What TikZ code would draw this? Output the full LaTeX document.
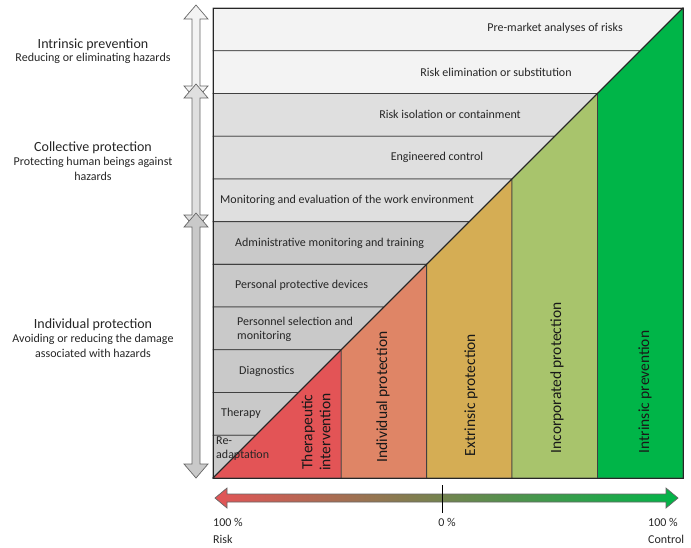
\documentclass[tikz,border=0pt]{standalone}
\usepackage{fontspec}
\setmainfont{Carlito}
\usetikzlibrary{positioning}

\definecolor{rowlight}{HTML}{F3F3F3}
\definecolor{rowmid}{HTML}{DFDFDF}
\definecolor{rowdark}{HTML}{C9C9C9}
\definecolor{therapcol}{HTML}{E35456}
\definecolor{indivcol}{HTML}{DF8566}
\definecolor{extrcol}{HTML}{D5AD54}
\definecolor{incorpcol}{HTML}{A8C46C}
\definecolor{intrcol}{HTML}{00B548}
\definecolor{midcol}{HTML}{8E8A52}

\begin{document}
\begin{tikzpicture}[x=1pt, y=-1pt, rowlabel/.style={font=\fontsize{12}{14}\selectfont, text=black!85, inner sep=0pt}, collabel/.style={font=\fontsize{15.5}{18}\selectfont, text=black!90, rotate=90, inner sep=0pt}, sidetitle/.style={font=\fontsize{14}{16}\selectfont, text=black!85, inner sep=0pt}, sidenote/.style={font=\fontsize{12}{14.5}\selectfont, text=black!85, align=center, inner sep=0pt}, pctlabel/.style={font=\fontsize{12}{14}\selectfont, text=black!85, inner sep=0pt, anchor=base west}]

    \useasboundingbox (0,0) rectangle (691,547);

    %Rows
    \foreach \i/\col [evaluate=\i as \yt using 8+(\i-1)*42.7273, evaluate=\i as \yb using 8+\i*42.7273] in {1/rowlight, 2/rowlight, 3/rowmid, 4/rowmid, 5/rowmid, 6/rowdark, 7/rowdark, 8/rowdark, 9/rowdark, 10/rowdark, 11/rowdark}
        \filldraw[fill=\col, draw=black!75, line width=0.8pt] (213,\yt) -- ({691-\yt},\yt) -- ({691-\yb},\yb) -- (213,\yb) -- cycle;

    %Columns
    \foreach \xa/\xb/\col in {213/341.18/therapcol, 341.18/426.64/indivcol, 426.64/512.09/extrcol, 512.09/597.55/incorpcol, 597.55/683/intrcol}
        \filldraw[fill=\col, draw=black!75, line width=0.8pt] (\xa,478) -- (\xa,{691-\xa}) -- (\xb,{691-\xb}) -- (\xb,478) -- cycle;

    %Frame
    \draw[black!85, line width=1pt] (213,8) rectangle (683,478);
    \draw[black!85, line width=1pt] (213,478) -- (683,8);

    %Side arrows
    \foreach \ya/\yb/\col in {5/100/rowlight, 84/229/rowmid, 213/478/rowdark}
        \filldraw[fill=\col, draw=black!60, line width=0.7pt] (196,\ya) -- (208,{\ya+14}) -- (200,{\ya+14}) -- (200,{\yb-14}) -- (208,{\yb-14}) -- (196,\yb) -- (184,{\yb-14}) -- (192,{\yb-14}) -- (192,{\ya+14}) -- (184,{\ya+14}) -- cycle;

    %Scale arrow
    \shadedraw[left color=therapcol, middle color=midcol, right color=intrcol, draw=black!60, line width=0.7pt] (215,498) -- (227,488) -- (227,494) -- (666,494) -- (666,488) -- (678,498) -- (666,508) -- (666,502) -- (227,502) -- (227,508) -- cycle;
    \coordinate (ticktop) at (442,485);
    \coordinate (tickbot) at (442,513);
    \draw[black, line width=0.8pt] (ticktop) -- (tickbot);

    %Row labels
    \node[rowlabel] (premarket) at (555,28) {Pre-market analyses of risks};
    \node[rowlabel] (elimination) at (496,72) {Risk elimination or substitution};
    \node[rowlabel] (isolation) at (450,114) {Risk isolation or containment};
    \node[rowlabel] (engineered) at (437,157) {Engineered control};
    \node[rowlabel, anchor=west] (monitoring) at (220,200) {Monitoring and evaluation of the work environment};
    \node[rowlabel, anchor=west] (administrative) at (235,243) {Administrative monitoring and training};
    \node[rowlabel, anchor=west] (devices) at (235,285) {Personal protective devices};
    \node[rowlabel, anchor=west, align=left] (selection) at (237,329) {Personnel selection and\\monitoring};
    \node[rowlabel, anchor=west] (diagnostics) at (239,371) {Diagnostics};
    \node[rowlabel, anchor=west] (therapy) at (221,413) {Therapy};
    \node[rowlabel, anchor=west, align=left] (readaptation) at (216,449) {Re-\\adaptation};

    %Column labels
    \node[collabel, align=center] (therapeutic) at (316,432) {Therapeutic\\intervention};
    \node[collabel] (individual) at (383,397) {Individual protection};
    \node[collabel] (extrinsic) at (471,395) {Extrinsic protection};
    \node[collabel] (incorporated) at (557,378) {Incorporated protection};
    \node[collabel] (intrinsic) at (645,392) {Intrinsic prevention};

    %Side labels
    \node[sidetitle] (intrtitle) at (93,45) {Intrinsic prevention};
    \node[sidenote, below=2pt of intrtitle] (intrnote) {Reducing or eliminating hazards};
    \node[sidetitle] (colltitle) at (93,148) {Collective protection};
    \node[sidenote, below=3pt of colltitle] (collnote) {Protecting human beings against\\hazards};
    \node[sidetitle] (indivtitle) at (93,325) {Individual protection};
    \node[sidenote, below=3pt of indivtitle] (indivnote) {Avoiding or reducing the damage\\associated with hazards};

    %Scale labels
    \node[pctlabel] (riskpct) at (213,526) {100 \%};
    \node[pctlabel] (risktext) at (213,543) {Risk};
    \node[pctlabel, anchor=base] (zeropct) at (447,526) {0 \%};
    \node[pctlabel] (controlpct) at (648,526) {100 \%};
    \node[pctlabel] (controltext) at (648,543) {Control};

\end{tikzpicture}
\end{document}
